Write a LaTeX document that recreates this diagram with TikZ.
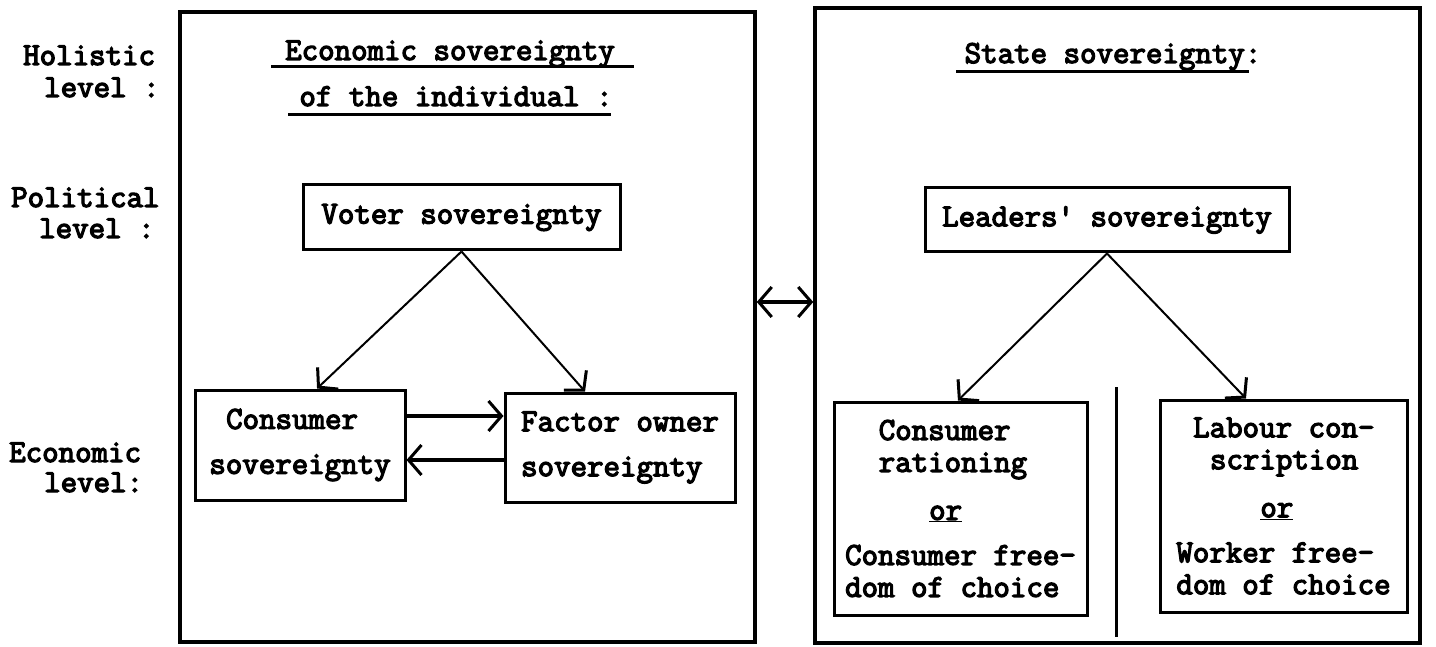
\documentclass[tikz,border=0pt]{standalone}
\usepackage{fontspec}
\newfontfamily\tw{Latin Modern Mono}[FakeBold=4]
\usetikzlibrary{arrows.meta,calc}
\tikzset{mytip/.tip={Straight Barb[length=13pt,width=30pt,line width=3pt]}}
\newcommand{\ind}[1]{\hspace*{#1\dimexpr 16.8pt\relax}}
\begin{document}
\begin{tikzpicture}[x=1pt,y=-1pt,
  every node/.style={font=\tw\fontsize{32}{32}\selectfont, inner sep=0pt},
  lbl/.style={anchor=base west},
  ttl/.style={anchor=base},
  box/.style={draw, line width=3pt, align=left},
  outer/.style={draw, line width=3.5pt},
  uline/.style={line width=3pt},
  darr/.style={line width=2pt, -{mytip}},
  harr/.style={line width=3.5pt, -{mytip}},
  dblarr/.style={line width=4pt, {mytip}-{mytip}},
]
\useasboundingbox (0,0) rectangle (1436,647);

% outer frames
\node[outer, minimum width=575pt, minimum height=630pt] (L) at (467.5,327) {};
\node[outer, minimum width=605pt, minimum height=635pt] (R) at (1117.5,325.5) {};

% level labels
\node[lbl] (hol1) at (23,65) {Holistic};
\node[lbl] (hol2) at (44,97) {level :};
\node[lbl] (pol1) at (11,207) {Political};
\node[lbl] (pol2) at (39,238) {level :};
\node[lbl] (eco1) at (9,462) {Economic};
\node[lbl] (eco2) at (44,492) {level:};

% titles
\node[ttl] (t1) at (450,60) {Economic sovereignty};
\draw[uline] (271,67) -- (634,67);
\node[ttl] (t2) at (456,106) {of the individual :};
\draw[uline] (288,115) -- (611,115);
\node[ttl] (t3) at (1113,63) {State sovereignty:};
\draw[uline] (956,72) -- (1249,72);

% boxes
\node[box, minimum width=317pt, minimum height=65pt] (voter) at (461.5,217.5) {Voter sovereignty};
\node[box, minimum width=364pt, minimum height=64pt] (lead) at (1107,220) {Leaders{\char"0027} sovereignty};
\node[box, minimum width=210pt, minimum height=110pt] (cs) at (300,445) {\ind{1}Consumer\\[13pt]sovereignty};
\node[box, minimum width=230pt, minimum height=109pt] (fo) at (620,447.5) {Factor owner\\[13pt]sovereignty};
\node[box, minimum width=253pt, minimum height=213pt] (cr) at (960.5,508.5)
  {\ind{2}Consumer\\\ind{2}rationing\\[16pt]\ind{5}\underline{or}\\[13pt]Consumer free-\\dom of choice};
\node[box, minimum width=247pt, minimum height=212pt] (lc) at (1283.5,506)
  {\ind{1}Labour con-\\\ind{2}scription\\[16pt]\ind{5}\underline{or}\\[13pt]Worker free-\\dom of choice};

% separator
\draw[line width=3pt] (1116,387) -- (1116,637);

% connectors
\coordinate (ay) at (0,302);
\draw[dblarr] (L.east |- ay) -- (R.west |- ay);
\draw[darr] (voter.south) -- ($(cs.north west)!0.58!(cs.north east)$);
\draw[darr] (voter.south) -- ($(fo.north west)!0.35!(fo.north east)$);
\draw[darr] (lead.south) -- ($(cr.north west)!0.49!(cr.north east)$);
\draw[darr] (lead.south) -- ($(lc.north west)!0.35!(lc.north east)$);
\draw[harr] (cs.east |- 0,416) -- (fo.west |- 0,416);
\draw[harr] (fo.west |- 0,460) -- (cs.east |- 0,460);
\end{tikzpicture}
\end{document}
